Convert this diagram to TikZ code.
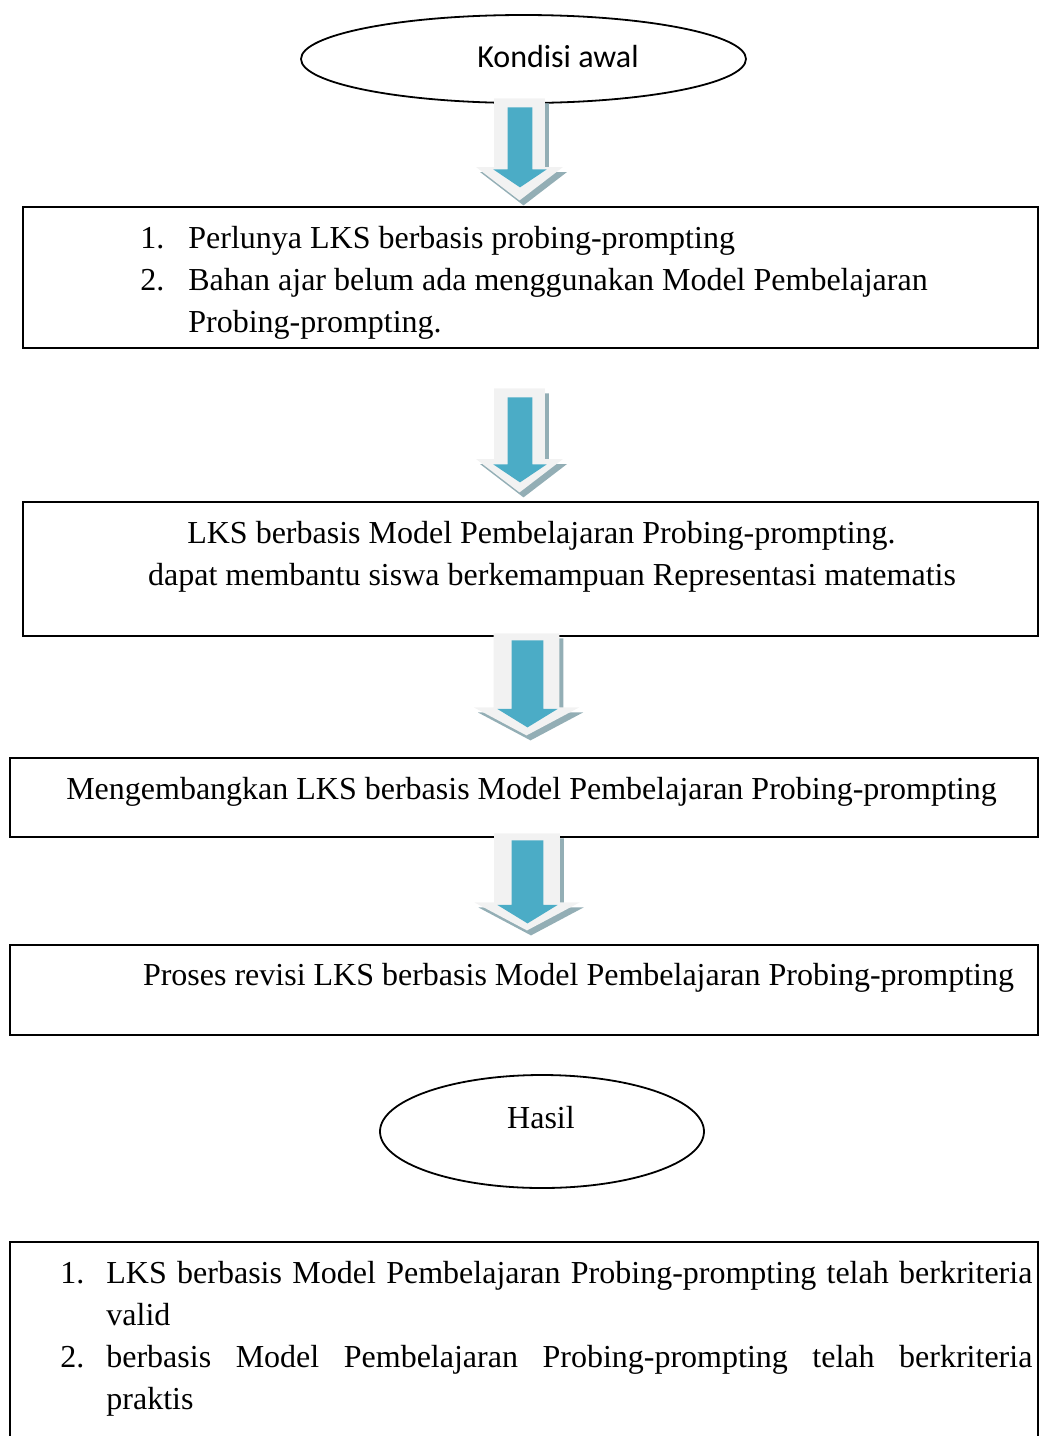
\documentclass[tikz,border=0pt]{standalone}
\usepackage{fontspec}
\setmainfont{Liberation Serif}
\newfontfamily\calibri{Carlito}
\usetikzlibrary{shapes.geometric,shapes.arrows}
\definecolor{panahisi}{HTML}{4BACC6}
\definecolor{panahbingkai}{HTML}{F2F2F2}
\definecolor{panahbayang}{HTML}{93AEB5}
\tikzset{
  kotak/.style={
    rectangle,
    draw=black, line width=1pt,
    inner sep=0pt},
  elips/.style={ellipse, draw=black, line width=0.9pt, inner sep=0pt},
  teks/.style={inner sep=0pt, font=\fontsize{16}{21}\selectfont},
  panah/.style={single arrow, rotate=-90, anchor=tail, inner xsep=0pt,
    single arrow head indent=0pt},
  panahkecil/.style={panah, fill=panahbingkai, inner ysep=9.75pt,
    minimum width=43.5pt, single arrow tip angle=105},
  panahbesar/.style={panah, fill=panahbingkai, inner ysep=11.75pt,
    minimum width=52.5pt, single arrow tip angle=124},
  isikecil/.style={panah, fill=panahisi, inner ysep=6pt,
    minimum width=22pt, single arrow tip angle=112},
  isibesar/.style={panah, fill=panahisi, inner ysep=7.75pt,
    minimum width=24.5pt, single arrow tip angle=117},
}

\begin{document}
\begin{tikzpicture}[x=0.5pt,y=-0.5pt]
\useasboundingbox (0,0) rectangle (1040,1436);
\clip (0,0) rectangle (1040,1436);

\node[elips, minimum width=222.5pt, minimum height=44pt] at (523.5,59) (awal) {};
\node[teks, anchor=base, font=\calibri\fontsize{16}{21}\selectfont] at (558,67) (awalteks) {Kondisi awal};

\node[kotak, minimum width=507.5pt, minimum height=70.5pt] at (530.5,277.5) (perlu) {};
\node[teks, anchor=base west] at (140,248) (perluteks)
  {\begin{tabular}[t]{@{}p{24pt}@{}l@{}}
   1. & Perlunya LKS berbasis probing-prompting\\
   2. & Bahan ajar belum ada menggunakan Model Pembelajaran\\
      & Probing-prompting.
   \end{tabular}};

\node[kotak, minimum width=507.5pt, minimum height=67pt] at (530.5,569) (bantu) {};
\node[teks, anchor=base] at (541.5,543) (bantuteks1)
  {LKS berbasis Model Pembelajaran Probing-prompting.};
\node[teks, anchor=base] at (552,585) (bantuteks2)
  {dapat membantu siswa berkemampuan Representasi matematis};

\node[kotak, minimum width=514pt, minimum height=39.5pt] at (524,797.5) (kembang) {};
\node[teks, anchor=base] at (531.5,799) (kembangteks)
  {Mengembangkan LKS berbasis Model Pembelajaran Probing-prompting};

\node[kotak, minimum width=514pt, minimum height=45pt] at (524,990) (revisi) {};
\node[teks, anchor=base] at (578.5,985) (revisiteks)
  {Proses revisi LKS berbasis Model Pembelajaran Probing-prompting};

\node[elips, minimum width=162pt, minimum height=56.5pt] at (542,1131.5) (hasil) {};
\node[teks, anchor=base] at (541,1128) (hasilteks) {Hasil};

\node[kotak, minimum width=514pt, minimum height=104pt] at (524,1346) (kriteria) {};
\node[teks, anchor=base west] at (60,1283) (kriteriateks)
  {\begin{tabular}[t]{@{}p{23pt}@{}p{463pt}@{}}
   1. & LKS berbasis Model Pembelajaran Probing-prompting telah berkriteria\linebreak valid\\
   2. & berbasis Model Pembelajaran Probing-prompting telah berkriteria\linebreak praktis
   \end{tabular}};

% panah blok
\node[panahkecil, fill=panahbayang, minimum height=51pt] at (523.5,103) (bayang1) {};
\node[panahkecil, minimum height=51pt] at (519.5,98) (panah1) {};
\node[isikecil, minimum height=40pt] at (520,107) (isi1) {};

\node[panahkecil, fill=panahbayang, minimum height=52pt] at (523.5,393) (bayang2) {};
\node[panahkecil, minimum height=52pt] at (519.5,388) (panah2) {};
\node[isikecil, minimum height=42.5pt] at (520,397) (isi2) {};

\node[panahbesar, fill=panahbayang, minimum height=51pt] at (530.5,638) (bayang3) {};
\node[panahbesar, minimum height=51pt] at (526.5,633) (panah3) {};
\node[isibesar, minimum height=43.5pt] at (527.5,640) (isi3) {};

\node[panahbesar, fill=panahbayang, minimum height=48.5pt] at (531,838) (bayang4) {};
\node[panahbesar, minimum height=48.5pt] at (527,833) (panah4) {};
\node[isibesar, minimum height=41.5pt] at (527.5,840) (isi4) {};
\end{tikzpicture}
\end{document}
